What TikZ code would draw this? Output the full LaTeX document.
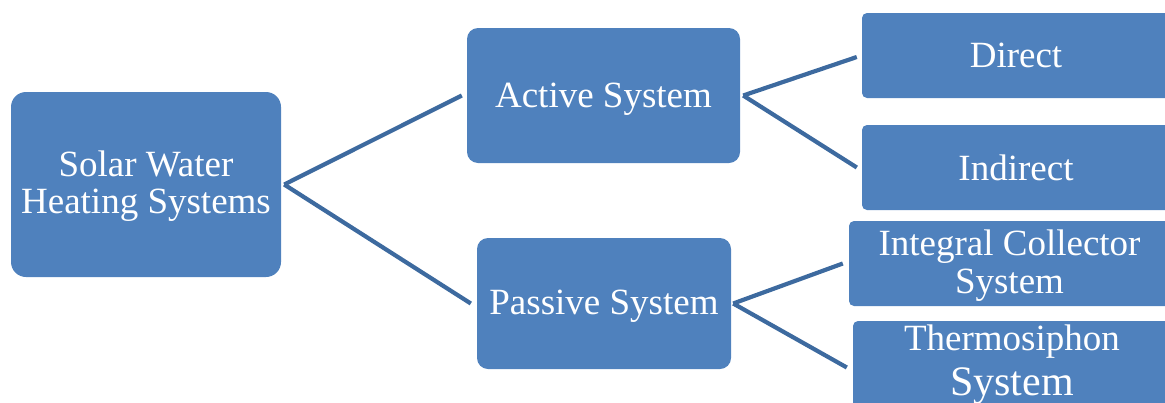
\documentclass[tikz,border=0pt]{standalone}
\usepackage{fontspec}
\setmainfont{Liberation Serif}
\definecolor{boxblue}{HTML}{4F81BD}
\definecolor{lineblue}{HTML}{3D6A9F}
\newcommand{\lowertext}[2]{\raisebox{-#1}[\height][\depth]{#2}}
\begin{document}
\begin{tikzpicture}[x=1pt,y=-1pt,
  box/.style={fill=boxblue, draw=none, inner sep=0pt, text=white, align=center,
    font=\fontsize{37}{37}\selectfont},
  conn/.style={draw=lineblue, line width=4.2pt, line cap=butt, line join=miter}]
\useasboundingbox (0,0) rectangle (1165,402);
\clip (0,0) rectangle (1165,402);
\node[box, rounded corners=15pt, minimum width=270pt, minimum height=185pt] (root) at (146,184.5) {\lowertext{3.5pt}{\begin{tabular}{@{}c@{}}Solar Water\\[0pt]Heating Systems\end{tabular}}};
\node[box, rounded corners=11pt, minimum width=273pt, minimum height=135pt] (active) at (603.5,95.5) {\lowertext{3.5pt}{Active System}};
\node[box, rounded corners=11pt, minimum width=254pt, minimum height=131pt] (passive) at (604,303.5) {\lowertext{3pt}{Passive System}};
\node[box, rounded corners=5pt, minimum width=308pt, minimum height=85pt] (direct) at (1016,55.5) {Direct};
\node[box, rounded corners=5pt, minimum width=308pt, minimum height=85pt] (indirect) at (1016,167.5) {Indirect};
\node[box, rounded corners=5pt, minimum width=321pt, minimum height=85pt] (integral) at (1009.5,263.5) {\lowertext{3.5pt}{\begin{tabular}{@{}c@{}}Integral Collector\\[1pt]System\end{tabular}}};
\node[box, rounded corners=5pt, minimum width=318pt, minimum height=89pt] (thermo) at (1012,365.5) {\begin{tabular}{@{}c@{}}Thermosiphon\\[6pt]{\fontsize{42}{42}\selectfont System}\end{tabular}};
\draw[conn] ([xshift=3pt]root.east) -- ([xshift=-5pt]active.west);
\draw[conn] ([xshift=3pt]root.east) -- ([xshift=-6pt]passive.west);
\draw[conn] ([xshift=3pt]active.east) -- ([xshift=-5pt,yshift=-1.5pt]direct.west);
\draw[conn] ([xshift=3pt]active.east) -- ([xshift=-5pt]indirect.west);
\draw[conn] ([xshift=2pt]passive.east) -- ([xshift=-6pt]integral.west);
\draw[conn] ([xshift=2pt]passive.east) -- ([xshift=-6pt,yshift=-2pt]thermo.west);
\end{tikzpicture}
\end{document}
